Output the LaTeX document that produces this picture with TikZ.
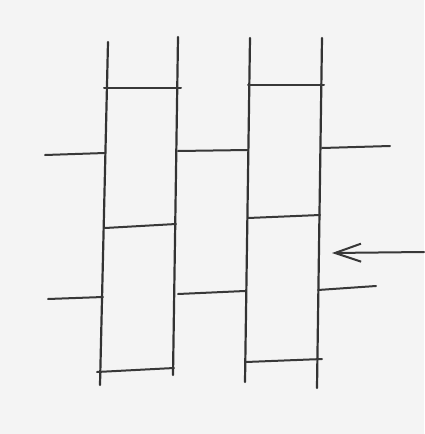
\documentclass[tikz,border=0pt]{standalone}
\usepackage{tikz}
\usetikzlibrary{arrows.meta}

\begin{document}
\begin{tikzpicture}[
  x=1pt,y=-1pt,
  pencil/.style={draw=black!80,line width=2.2pt,line cap=round},
  rung/.style={draw=black!78,line width=2pt,line cap=round},
  push/.style={draw=black!78,line width=2pt,line cap=round,
               -{Straight Barb[length=26pt,width=18pt,line width=2pt]}}
]
\fill[gray!9] (0,0) rectangle (424,434);
\useasboundingbox (0,0) rectangle (424,434);
% uprights
\coordinate (p1t) at (108,42);  \coordinate (p1b) at (100,385);
\coordinate (p2t) at (178,37);  \coordinate (p2b) at (173,375);
\coordinate (p3t) at (250,38);  \coordinate (p3b) at (245,382);
\coordinate (p4t) at (322,38);  \coordinate (p4b) at (317,388);
\draw[pencil] (p1t) -- (p1b);
\draw[pencil] (p2t) -- (p2b);
\draw[pencil] (p3t) -- (p3b);
\draw[pencil] (p4t) -- (p4b);
% rungs
\draw[rung] (104,88) -- (181,88);
\draw[rung] (248,85) -- (324,85);
\draw[rung] (45,155) -- (105,153);
\draw[rung] (178,151) -- (248,150);
\draw[rung] (322,148) -- (390,146);
\draw[rung] (105,228) -- (176,224);
\draw[rung] (248,218) -- (320,215);
\draw[rung] (48,299) -- (103,297);
\draw[rung] (178,294) -- (245,291);
\draw[rung] (318,290) -- (376,286);
\draw[rung] (97,372) -- (174,368);
\draw[rung] (246,362) -- (322,359);
% arrow
\coordinate (from) at (424,252);
\coordinate (to) at (332,253);
\draw[push] (from) -- (to);
\end{tikzpicture}
\end{document}
